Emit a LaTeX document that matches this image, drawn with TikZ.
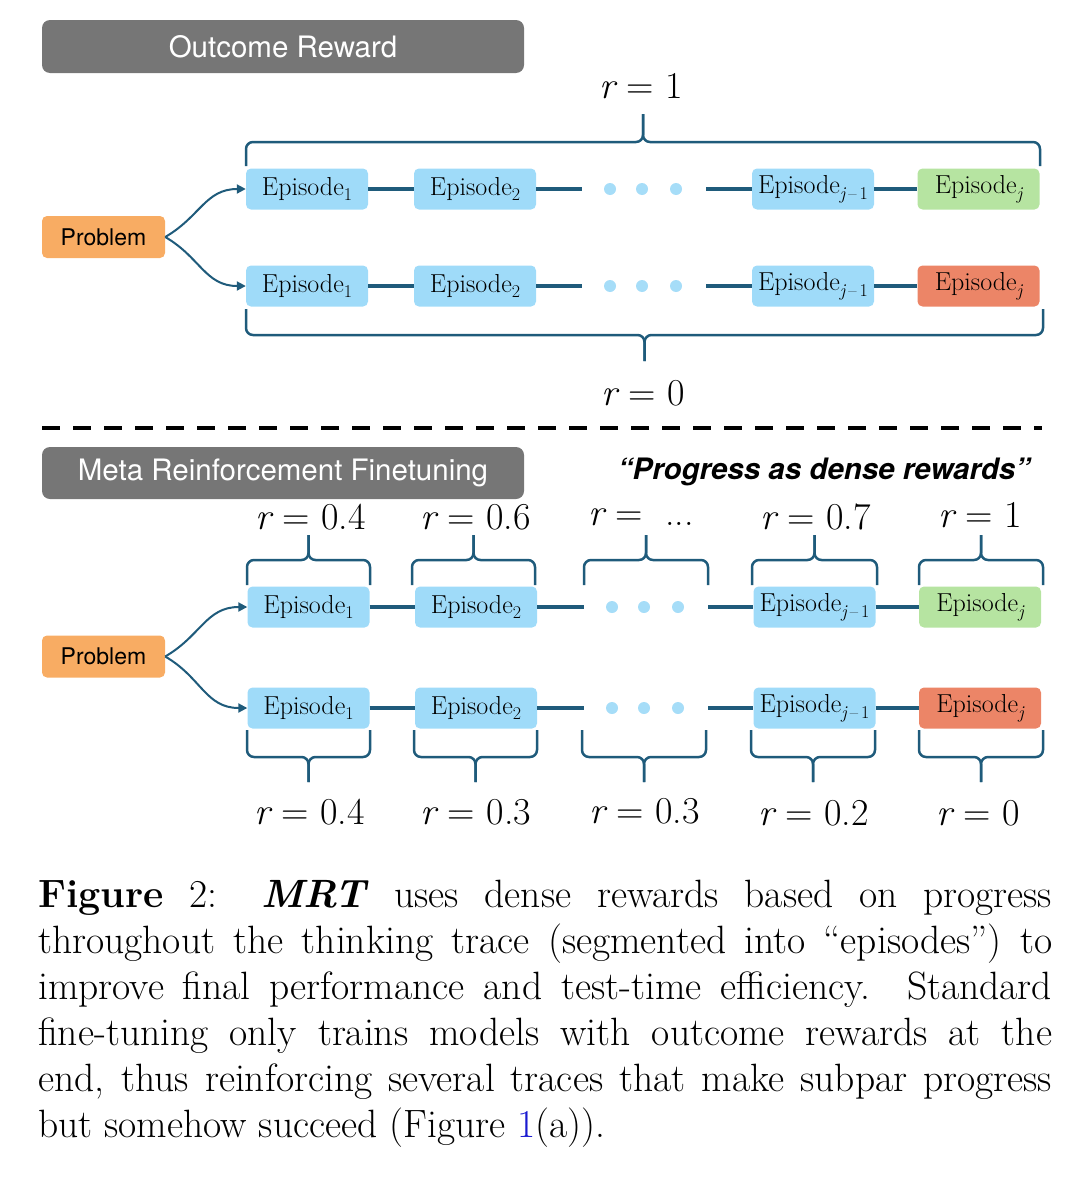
\documentclass[tikz,border=0pt]{standalone}
\usepackage{fontspec}
\setsansfont{TeX Gyre Heros}
\usetikzlibrary{arrows.meta}
\definecolor{boxblue}{HTML}{9FDBF9}
\definecolor{boxgreen}{HTML}{B6E4A1}
\definecolor{boxred}{HTML}{EC8567}
\definecolor{probor}{HTML}{F8AC63}
\definecolor{hdrgray}{HTML}{767676}
\definecolor{tealc}{HTML}{1F5B7B}
\definecolor{dotc}{HTML}{A6DDF8}
\definecolor{reflink}{HTML}{1A1AD0}
\newcommand{\mybrace}[5]{%
  \draw[brc,rounded corners=7pt] (#1,#3) -- (#1,#4) -- ({(#1+#2)/2},#4) -- ({(#1+#2)/2},#5);
  \draw[brc,rounded corners=7pt] (#2,#3) -- (#2,#4) -- ({(#1+#2)/2},#4) -- ({(#1+#2)/2},#5);}
\newcommand{\sub}[1]{\raisebox{-0.22em}{\fontsize{18}{18}\selectfont #1}}
\newcommand{\epi}[1]{Episode\sub{#1}}
\newcommand{\epj}{Episode\sub{\itshape j}}
\newcommand{\epjm}{Episode\sub{{\itshape j}\,\textendash\,1}}
\begin{document}
\begin{tikzpicture}[x=1pt,y=-1pt,
  ep/.style={rectangle, rounded corners=5pt, minimum width=122pt, minimum height=41pt, inner sep=0pt, font=\fontsize{26}{28}\selectfont, fill=boxblue},
  epg/.style={ep, fill=boxgreen},
  epr/.style={ep, fill=boxred},
  hdr/.style={rectangle, fill=hdrgray, rounded corners=8pt, minimum width=482pt, minimum height=53pt, inner sep=0pt, text=white, font=\sffamily\fontsize{29.5}{32}\selectfont},
  prob/.style={rectangle, fill=probor, rounded corners=5pt, minimum width=123pt, minimum height=42pt, inner sep=0pt, font=\sffamily\fontsize{23}{26}\selectfont},
  link/.style={draw=tealc, line width=4.5pt},
  brc/.style={draw=tealc, line width=2.5pt},
  arr/.style={draw=tealc, line width=2pt, -{Triangle[length=9pt,width=9pt]}},
  rlab/.style={inner sep=0pt, font=\fontsize{38}{42}\selectfont},
  dotn/.style={circle, fill=dotc, minimum size=12pt, inner sep=0pt},
]
\useasboundingbox (0,0) rectangle (1080,1183);

% ---------- top section ----------
\node[hdr] (h1) at (283,46.5) {Outcome Reward};
\node[rlab] (rtop) at (641,86) {{\itshape r} = 1};

\node[prob] (p1) at (103.5,237) {Problem};
\node[ep]  (a1) at (307,189) {\epi{1}};
\node[ep]  (a2) at (475,189) {\epi{2}};
\node[ep]  (a3) at (813,189) {\epjm};
\node[epg] (a4) at (978.5,189) {\epj};
\node[ep]  (b1) at (307,286) {\epi{1}};
\node[ep]  (b2) at (475,286) {\epi{2}};
\node[ep]  (b3) at (813,286) {\epjm};
\node[epr] (b4) at (978.5,286) {\epj};
\coordinate (a2e) at (582,189); \coordinate (a3w) at (706,189);
\coordinate (b2e) at (582,286); \coordinate (b3w) at (706,286);
\node[dotn] (ad1) at (610,189) {}; \node[dotn] (ad2) at (642,189) {}; \node[dotn] (ad3) at (676,189) {};
\node[dotn] (bd1) at (610,286) {}; \node[dotn] (bd2) at (642,286) {}; \node[dotn] (bd3) at (676,286) {};

\draw[link] (a1) -- (a2); \draw[link] (a2) -- (a2e); \draw[link] (a3w) -- (a3); \draw[link] (a3) -- (a4);
\draw[link] (b1) -- (b2); \draw[link] (b2) -- (b2e); \draw[link] (b3w) -- (b3); \draw[link] (b3) -- (b4);
\draw[arr] (p1.east) to[out=30,in=180,looseness=1.1] (a1.west);
\draw[arr] (p1.east) to[out=-30,in=180,looseness=1.1] (b1.west);

\mybrace{246}{1040}{166}{142}{114}
\mybrace{246}{1043}{309}{335}{361}
\node[rlab] (rbot) at (643,393) {{\itshape r} = 0};

% ---------- divider ----------
\coordinate (dl) at (42,428); \coordinate (dr) at (1042,428);
\draw[black, line width=4pt, dash pattern=on 18pt off 13pt] (dl) -- (dr);

% ---------- bottom section ----------
\node[hdr, minimum height=52pt] (h2) at (283,473) {Meta Reinforcement Finetuning};
\node[inner sep=0pt, font=\sffamily\bfseries\itshape\fontsize{29.5}{32}\selectfont] (prog) at (824,472) {“Progress as dense rewards”};

\node[prob] (p2) at (103.5,656.5) {Problem};
\node[ep]  (c1) at (308.5,607) {\epi{1}};
\node[ep]  (c2) at (476,607) {\epi{2}};
\node[ep]  (c3) at (814.5,607) {\epjm};
\node[epg] (c4) at (980,607) {\epj};
\node[ep]  (d1) at (308.5,708) {\epi{1}};
\node[ep]  (d2) at (476,708) {\epi{2}};
\node[ep]  (d3) at (814.5,708) {\epjm};
\node[epr] (d4) at (980,708) {\epj};
\coordinate (c2e) at (584,607); \coordinate (c3w) at (708,607);
\coordinate (d2e) at (584,708); \coordinate (d3w) at (708,708);
\node[dotn] (cd1) at (612,607) {}; \node[dotn] (cd2) at (644,607) {}; \node[dotn] (cd3) at (678,607) {};
\node[dotn] (dd1) at (612,708) {}; \node[dotn] (dd2) at (644,708) {}; \node[dotn] (dd3) at (678,708) {};

\draw[link] (c1) -- (c2); \draw[link] (c2) -- (c2e); \draw[link] (c3w) -- (c3); \draw[link] (c3) -- (c4);
\draw[link] (d1) -- (d2); \draw[link] (d2) -- (d2e); \draw[link] (d3w) -- (d3); \draw[link] (d3) -- (d4);
\draw[arr] (p2.east) to[out=30,in=180,looseness=1.1] (c1.west);
\draw[arr] (p2.east) to[out=-30,in=180,looseness=1.1] (d1.west);

\mybrace{247}{370}{585}{560}{535}
\mybrace{412}{535}{585}{560}{535}
\mybrace{584}{708}{585}{560}{535}
\mybrace{752}{877}{585}{560}{535}
\mybrace{919}{1043}{585}{560}{535}
\mybrace{247}{370}{730}{757}{782}
\mybrace{414}{537}{730}{757}{782}
\mybrace{582}{706}{730}{757}{782}
\mybrace{751}{875}{730}{757}{782}
\mybrace{919}{1043}{730}{757}{782}

\node[rlab] (t1) at (310.5,517) {{\itshape r} = 0.4};
\node[rlab] (t2) at (475.5,517) {{\itshape r} = 0.6};
\node[rlab] (t3) at (641,517) {{\itshape r} =\ \ ...};
\node[rlab] (t4) at (815.5,517) {{\itshape r} = 0.7};
\node[rlab] (t5) at (980,515) {{\itshape r} = 1};
\node[rlab] (u1) at (309.5,812) {{\itshape r} = 0.4};
\node[rlab] (u2) at (476,812) {{\itshape r} = 0.3};
\node[rlab] (u3) at (644.5,811) {{\itshape r} = 0.3};
\node[rlab] (u4) at (813.5,813) {{\itshape r} = 0.2};
\node[rlab] (u5) at (978,813) {{\itshape r} = 0};

% ---------- caption ----------
\node[anchor=base west, inner sep=0pt, text width=1014pt, align=justify,
      font=\fontsize{39.5}{46}\selectfont] (cap) at (38,907)
{\hyphenpenalty=10000\exhyphenpenalty=10000\emergencystretch=20pt
\textbf{Figure} 2: \textbf{\textit{MRT}} uses dense rewards based on progress\linebreak
throughout the thinking trace (segmented into “episodes”) to\linebreak
improve final performance and test-time efficiency. Standard\linebreak
fine-tuning only trains models with outcome rewards at the\linebreak
end, thus reinforcing several traces that make subpar progress\linebreak
but somehow succeed (Figure~{\color{reflink}1}(a)).};
\end{tikzpicture}
\end{document}
